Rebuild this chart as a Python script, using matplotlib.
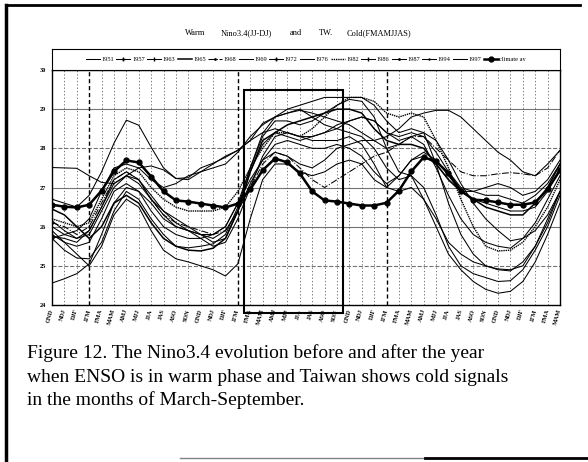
import numpy as np
import matplotlib
matplotlib.use("Agg")
import matplotlib.pyplot as plt
from matplotlib.patches import Rectangle
from matplotlib.lines import Line2D

plt.rcParams['font.family'] = ['Liberation Serif', 'DejaVu Serif']

# 3-month seasons, starting OND two years before
seasons = ["OND", "NDJ", "DJF", "JFM", "FMA", "MAM", "AMJ", "MJJ", "JJA", "JAS", "ASO", "SON"]
tick_labels = seasons * 3 + seasons[:6]

years = ["1951", "1957", "1963", "1965", "1968", "1969", "1972",
         "1976", "1982", "1986", "1987", "1994", "1997"]

y1951 = [24.56, 24.67, 24.80, 25.05, 25.80, 26.60, 27.00, 26.90, 26.60, 26.20, 26.00, 25.90,
         25.80, 25.70, 25.90, 26.40, 27.10, 27.70, 28.10, 28.20, 28.10, 28.00, 28.00, 28.10,
         28.00, 27.80, 27.40, 27.10, 27.30, 27.70, 27.90, 27.70, 27.30, 26.90, 26.70, 26.60,
         26.50, 26.40, 26.40, 26.50, 26.90, 27.50]
y1957 = [25.75, 25.70, 25.60, 25.90, 26.50, 27.10, 27.30, 27.10, 26.70, 26.40, 26.20, 26.00,
         25.80, 25.60, 25.70, 26.40, 27.40, 28.10, 28.40, 28.30, 28.20, 28.30, 28.40, 28.50,
         28.70, 28.80, 28.70, 28.40, 28.30, 28.40, 28.30, 27.90, 27.40, 27.00, 26.90, 26.80,
         26.80, 26.70, 26.60, 26.80, 27.10, 27.60]
y1963 = [26.15, 25.90, 25.70, 25.80, 26.40, 27.00, 27.30, 27.20, 26.80, 26.40, 26.10, 25.90,
         25.70, 25.50, 25.60, 26.20, 27.00, 27.80, 28.30, 28.40, 28.30, 28.20, 28.20, 28.20,
         28.30, 28.10, 27.60, 27.00, 26.90, 27.00, 26.70, 26.20, 25.60, 25.30, 25.10, 25.00,
         24.92, 24.90, 25.00, 25.50, 26.10, 26.90]
y1965 = [26.45, 26.30, 26.00, 25.70, 26.00, 26.60, 26.80, 26.60, 26.10, 25.70, 25.50, 25.40,
         25.38, 25.45, 25.70, 26.40, 27.40, 28.20, 28.40, 28.60, 28.70, 28.80, 28.90, 29.00,
         29.00, 28.90, 28.50, 28.20, 28.10, 28.10, 28.00, 27.60, 27.20, 26.90, 26.70, 26.50,
         26.40, 26.30, 26.30, 26.60, 27.00, 27.60]
y1968 = [26.10, 26.00, 25.80, 26.00, 26.60, 27.20, 27.40, 27.20, 26.70, 26.30, 26.10, 26.00,
         25.90, 25.80, 25.90, 26.40, 27.00, 27.60, 27.90, 27.80, 27.50, 27.20, 27.00, 27.20,
         27.40, 27.60, 27.80, 27.90, 28.10, 28.30, 28.30, 28.00, 27.70, 27.40, 27.30, 27.30,
         27.35, 27.38, 27.35, 27.30, 27.50, 27.95]
y1969 = [27.51, 27.50, 27.49, 27.30, 27.13, 27.10, 27.30, 27.50, 27.55, 27.45, 27.23, 27.25,
         27.50, 27.62, 27.77, 27.95, 28.20, 28.64, 28.80, 28.90, 28.97, 28.90, 28.80, 28.70,
         28.60, 28.40, 28.20, 28.00, 28.10, 28.30, 28.40, 28.20, 27.70, 27.10, 26.60, 26.20,
         25.90, 25.64, 25.70, 25.90, 26.30, 26.90]
y1972 = [25.70, 25.40, 25.20, 25.18, 25.60, 26.40, 26.90, 26.70, 26.20, 25.80, 25.50, 25.46,
         25.50, 25.56, 25.80, 26.50, 27.50, 28.30, 28.70, 28.70, 28.60, 28.70, 28.90, 29.10,
         29.25, 29.20, 28.80, 28.00, 27.40, 27.30, 27.00, 26.30, 25.50, 25.00, 24.80, 24.70,
         24.60, 24.62, 24.90, 25.40, 26.00, 26.80]
y1976 = [25.90, 25.60, 25.30, 25.00, 25.50, 26.30, 26.70, 26.50, 25.90, 25.40, 25.18, 25.10,
         25.00, 24.90, 24.74, 25.05, 26.20, 27.20, 27.60, 27.60, 27.40, 27.30, 27.40, 27.60,
         27.70, 27.60, 27.20, 27.00, 27.30, 27.70, 27.80, 27.60, 27.20, 26.90, 26.90, 27.00,
         27.10, 27.00, 26.80, 26.90, 27.20, 27.70]
y1982 = [26.20, 26.10, 26.00, 26.10, 26.70, 27.30, 27.50, 27.40, 27.00, 26.70, 26.50, 26.40,
         26.40, 26.40, 26.50, 26.90, 27.50, 28.00, 28.40, 28.40, 28.30, 28.50, 28.80, 29.10,
         29.30, 29.30, 29.20, 28.90, 28.80, 28.90, 28.80, 28.20, 27.50, 26.70, 26.00, 25.50,
         25.38, 25.40, 25.60, 26.00, 26.50, 27.20]
y1986 = [25.80, 25.60, 25.50, 25.60, 26.20, 26.90, 27.10, 26.90, 26.40, 26.00, 25.80, 25.70,
         25.70, 25.80, 26.00, 26.60, 27.20, 27.70, 27.90, 27.80, 27.60, 27.50, 27.70, 28.00,
         28.10, 28.20, 28.20, 28.30, 28.50, 28.80, 28.90, 28.97, 28.97, 28.80, 28.50, 28.20,
         27.90, 27.70, 27.40, 27.30, 27.60, 27.95]
y1987 = [25.70, 25.80, 25.90, 26.20, 26.90, 27.50, 27.60, 27.50, 27.20, 27.00, 27.10, 27.30,
         27.40, 27.50, 27.60, 27.90, 28.30, 28.60, 28.80, 28.90, 29.00, 28.80, 28.60, 28.50,
         28.40, 28.30, 28.00, 27.50, 27.20, 27.30, 26.70, 26.00, 25.30, 24.90, 24.60, 24.40,
         24.30, 24.35, 24.60, 25.10, 25.80, 26.60]
y1994 = [26.70, 26.60, 26.50, 26.80, 27.40, 28.13, 28.72, 28.59, 28.03, 27.50, 27.23, 27.20,
         27.40, 27.60, 27.80, 27.95, 28.20, 28.40, 28.50, 28.40, 28.30, 28.30, 28.40, 28.60,
         28.70, 28.80, 28.70, 28.40, 28.20, 28.30, 28.10, 27.50, 26.80, 26.20, 25.80, 25.60,
         25.50, 25.45, 25.70, 26.10, 26.70, 27.30]
y1997 = [26.00, 25.80, 25.70, 25.90, 26.50, 27.20, 27.40, 27.20, 26.70, 26.30, 26.00, 25.90,
         25.80, 25.80, 26.00, 26.60, 27.50, 28.38, 28.80, 29.00, 29.10, 29.20, 29.30, 29.30,
         29.30, 29.30, 29.10, 28.70, 28.40, 28.50, 28.40, 27.60, 26.60, 25.80, 25.30, 25.00,
         24.90, 24.87, 25.10, 25.50, 26.20, 26.90]
climate = [26.56, 26.51, 26.49, 26.56, 26.92, 27.41, 27.69, 27.64, 27.28, 26.90, 26.67, 26.64,
           26.59, 26.54, 26.49, 26.59, 26.95, 27.44, 27.74, 27.64, 27.36, 26.90, 26.67, 26.64,
           26.59, 26.54, 26.54, 26.61, 26.92, 27.41, 27.77, 27.67, 27.36, 26.92, 26.69, 26.67,
           26.62, 26.56, 26.56, 26.62, 26.95, 27.44]

series = [y1951, y1957, y1963, y1965, y1968, y1969, y1972,
          y1976, y1982, y1986, y1987, y1994, y1997]

# line look for each year (all black in the original)
styles = {
    "1951": dict(ls="-"),
    "1957": dict(ls="-", marker="+", ms=2.5),
    "1963": dict(ls="-", marker="|", ms=2.5),
    "1965": dict(ls="-", lw=1.1),
    "1968": dict(ls="-.", marker=".", ms=2),
    "1969": dict(ls="-"),
    "1972": dict(ls="-", marker="+", ms=2.5),
    "1976": dict(ls="-"),
    "1982": dict(ls=(0, (1, 0.6)), lw=1.0),
    "1986": dict(ls="-", marker="|", ms=2.5),
    "1987": dict(ls="-", marker=".", ms=2),
    "1994": dict(ls="-", marker="+", ms=2),
    "1997": dict(ls="-"),
}

fig = plt.figure(figsize=(5.88, 4.62), dpi=100)
ax = fig.add_axes([52/588, 1-305/462, 508/588, 235/462])

x = np.arange(len(tick_labels))
for yr, vals in zip(years, series):
    st = dict(color="black", lw=0.75)
    st.update(styles[yr])
    if "marker" in st:
        st["markevery"] = 100
    ax.plot(x, vals, label=yr, **st)
ax.plot(x, climate, color="black", lw=1.8, marker="o", ms=3.5, label="climate av")

ax.set_xlim(0, len(tick_labels) - 1)
ax.set_ylim(24, 30)
ax.set_yticks(range(24, 31))
ax.set_yticklabels([str(v) for v in range(24, 31)], fontsize=4.5, fontweight="bold")
ax.set_xticks(x)
ax.set_xticklabels(tick_labels, fontsize=4.5, fontweight="bold", rotation=75,
                   ha="right", va="center", rotation_mode="anchor")
ax.tick_params(axis="both", length=0, pad=4)
ax.tick_params(axis="x", pad=3)

# grid
for v in range(25, 30):
    ax.axhline(v, color="0.45", lw=0.8, ls="--" if v in (25, 28) else "-", zorder=0)
for i in x[1:-1]:
    if tick_labels[i] == "JFM" and i < 30:
        ax.axvline(i, color="black", lw=1.0, ls=(0, (3, 2)), zorder=0)
    else:
        ax.axvline(i, color="0.35", lw=0.6, ls=(0, (1.5, 2.5)), zorder=0)
for s in ax.spines.values():
    s.set_linewidth(1.0)

# box around the March-September season
ax.add_patch(Rectangle((15.5, 23.8), 8, 5.7, fill=False, lw=1.5,
                       ec="black", clip_on=False, zorder=5))

# legend strip above the plot
lax = fig.add_axes([52/588, 1-70/462, 508/588, 21/462])
lax.set_xticks([])
lax.set_yticks([])
h, l = ax.get_legend_handles_labels()
lax.legend(h, l, loc="center", ncol=14, frameon=False, fontsize=4.6,
           handlelength=2.2, handletextpad=0.25, columnspacing=0.35,
           borderaxespad=0, borderpad=0)

# title words
tx = [("Warm", 195), ("Nino3.4(JJ-DJ)", 246), ("and", 296),
      ("TW.", 326), ("Cold(FMAMJJAS)", 379)]
for t, px in tx:
    fig.text(px/588, 1-33/462, t, fontsize=6, ha="center", va="center")

# caption
cap = ["Figure 12. The Nino3.4 evolution before and after the year",
       "when ENSO is in warm phase and Taiwan shows cold signals",
       "in the months of March-September."]
for k, line in enumerate(cap):
    fig.text(27/588, 1-(358 + 23.5*k)/462, line, fontsize=14, va="baseline", ha="left")

# page border of the scan
fig.add_artist(Line2D([6/588, 6/588], [0, 1-5/462], color="black", lw=2.5))
fig.add_artist(Line2D([6/588, 580/588], [1-5/462, 1-5/462], color="black", lw=2))
fig.add_artist(Line2D([180/588, 425/588], [1-458/462, 1-458/462], color="0.5", lw=1))
fig.add_artist(Line2D([425/588, 1], [1-458/462, 1-458/462], color="black", lw=2))

fig.savefig("out.png", dpi=100)
